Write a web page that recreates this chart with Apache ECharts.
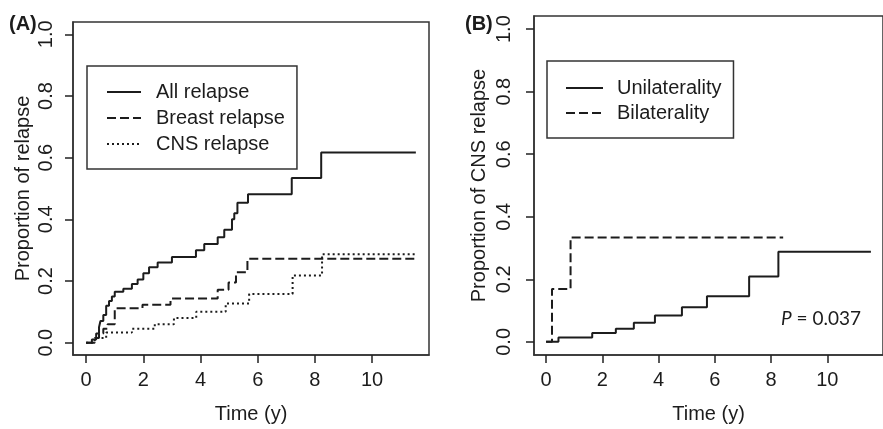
<!DOCTYPE html>
<html>
<head>
<meta charset="utf-8">
<script src="https://cdn.jsdelivr.net/npm/echarts@6/dist/echarts.min.js"></script>
<style>html,body{margin:0;padding:0;background:#fff;}#c{width:883px;height:429px;}</style>
</head>
<body>
<div id="c"></div>
<script>
// ---- Panel A data ----
const allT   = [0, 0.2, 0.35, 0.45, 0.5, 0.6, 0.7, 0.8, 0.9, 1.0, 1.3, 1.6, 1.8, 2.0, 2.2, 2.5, 3.0, 3.84, 4.13, 4.6, 4.83, 5.1, 5.18, 5.29, 5.66, 7.19, 8.22, 11.53];
const allY   = [0, 0.01, 0.03, 0.05, 0.07, 0.09, 0.12, 0.135, 0.15, 0.165, 0.175, 0.19, 0.205, 0.225, 0.245, 0.26, 0.278, 0.30, 0.32, 0.342, 0.366, 0.40, 0.42, 0.454, 0.481, 0.534, 0.617, 0.617];
const breastT = [0, 0.3, 0.45, 0.6, 0.75, 1.0, 1.97, 2.95, 4.6, 4.98, 5.24, 5.64, 11.53];
const breastY = [0, 0.015, 0.03, 0.045, 0.06, 0.112, 0.123, 0.143, 0.172, 0.195, 0.228, 0.272, 0.272];
const cnsT   = [0, 0.3, 0.7, 1.6, 2.4, 3.07, 3.85, 4.88, 5.7, 7.22, 8.25, 11.53];
const cnsY   = [0, 0.015, 0.033, 0.045, 0.06, 0.08, 0.1, 0.127, 0.158, 0.218, 0.287, 0.287];
// ---- Panel B data ----
const uniT = [0, 0.44, 1.64, 2.48, 3.12, 3.87, 4.83, 5.72, 7.22, 8.26, 11.55];
const uniY = [0, 0.014, 0.028, 0.042, 0.061, 0.084, 0.111, 0.146, 0.209, 0.288, 0.288];
const biT  = [0, 0.21, 0.87, 8.43];
const biY  = [0, 0.169, 0.334, 0.334];
// ---- ticks / labels ----
const xTicks = [0, 2, 4, 6, 8, 10];
const yTicks = [0, 0.2, 0.4, 0.6, 0.8, 1.0];
const namesA = ['All relapse', 'Breast relapse', 'CNS relapse'];
const namesB = ['Unilaterality', 'Bilaterality'];
const pText = '0.037';

const zip = (t, y) => t.map((v, i) => [v, y[i]]);
const ink = '#1c1c1c';
const font = 'Liberation Sans, Arial, sans-serif';
const DASH = [9, 4];
const DOT = [2, 3];
const xRange = [[-0.46, 11.99], [-0.43, 11.98]];
const yRange = [[-0.04, 1.04], [-0.042, 1.042]];

function xAxisCfg(gi) {
  return {
    type: 'value', gridIndex: gi, min: xRange[gi][0], max: xRange[gi][1],
    name: 'Time (y)', nameLocation: 'middle', nameGap: 49,
    nameTextStyle: {fontSize: 20, color: ink, fontFamily: font},
    axisLine: {show: false, onZero: false},
    axisTick: {show: false},
    axisLabel: {customValues: xTicks, fontSize: 20, color: ink, fontFamily: font, margin: 15},
    splitLine: {show: false}
  };
}
function yAxisCfg(gi, name, nameGap, labelMargin) {
  return {
    type: 'value', gridIndex: gi, min: yRange[gi][0], max: yRange[gi][1],
    name: name, nameLocation: 'middle', nameGap: nameGap, nameRotate: 90,
    nameTextStyle: {fontSize: 20, color: ink, fontFamily: font},
    axisLine: {show: false, onZero: false},
    axisTick: {show: false},
    axisLabel: {customValues: yTicks, rotate: 90, fontSize: 20, color: ink, fontFamily: font, margin: labelMargin,
      formatter: v => v.toFixed(1)},
    splitLine: {show: false}
  };
}
// tick-only axes (same scales, no labels)
function xTickAxis(gi) {
  return {
    type: 'value', gridIndex: gi, min: xRange[gi][0], max: xRange[gi][1], position: 'bottom',
    axisLine: {show: true, onZero: false, lineStyle: {color: '#333', width: 1.5}},
    axisTick: {show: true, length: 8, customValues: xTicks, lineStyle: {color: '#222', width: 1.5}},
    axisLabel: {show: false}, splitLine: {show: false}
  };
}
function yTickAxis(gi) {
  return {
    type: 'value', gridIndex: gi, min: yRange[gi][0], max: yRange[gi][1], position: 'left',
    axisLine: {show: true, onZero: false, lineStyle: {color: '#333', width: 1.5}},
    axisTick: {show: true, length: 8, customValues: yTicks, lineStyle: {color: '#222', width: 1.5}},
    axisLabel: {show: false}, splitLine: {show: false}
  };
}
function line(name, data, xi, type) {
  return {
    name: name, type: 'line', xAxisIndex: xi, yAxisIndex: xi, data: data,
    step: 'end', showSymbol: false, symbol: 'none', silent: true,
    lineStyle: {color: ink, width: 2, type: type}, itemStyle: {color: ink}
  };
}
const legendItemStyle = {color: 'transparent', borderColor: 'transparent', borderWidth: 0, opacity: 0};

const chart = echarts.init(document.getElementById('c'), null, {renderer: 'canvas'});
chart.setOption({
  animation: false,
  backgroundColor: '#fff',
  grid: [
    {left: 73, top: 22, width: 356, height: 337, show: true, borderColor: '#333', borderWidth: 1.5},
    {left: 534, top: 16, width: 358, height: 342, show: true, borderColor: '#333', borderWidth: 1.5}
  ],
  xAxis: [xAxisCfg(0), xAxisCfg(1), xTickAxis(0), xTickAxis(1)],
  yAxis: [yAxisCfg(0, 'Proportion of relapse', 40, 17),
          yAxisCfg(1, 'Proportion of CNS relapse', 45, 20),
          yTickAxis(0), yTickAxis(1)],
  legend: [
    {data: namesA, orient: 'vertical', left: 87, top: 66, itemWidth: 34, itemHeight: 14, itemGap: 6,
     padding: [16, 12, 15, 19], borderColor: '#333', borderWidth: 1.5, selectedMode: false,
     itemStyle: legendItemStyle,
     textStyle: {fontSize: 20, color: ink, fontFamily: font, lineHeight: 20, padding: [0, 0, 0, 10]}},
    {data: namesB, orient: 'vertical', left: 547, top: 61, itemWidth: 37, itemHeight: 14, itemGap: 5,
     padding: [17, 12, 15, 18], borderColor: '#333', borderWidth: 1.5, selectedMode: false,
     itemStyle: legendItemStyle,
     textStyle: {fontSize: 20, color: ink, fontFamily: font, lineHeight: 20, padding: [0, 0, 0, 9]}}
  ],
  graphic: [
    {type: 'text', left: 9, top: 14, style: {text: '(A)', font: 'bold 20px ' + font, fill: ink}},
    {type: 'text', left: 465, top: 14, style: {text: '(B)', font: 'bold 20px ' + font, fill: ink}},
    {type: 'text', left: 781, top: 309, style: {
      text: '{i|P} = ' + pText,
      rich: {i: {fontStyle: 'italic', fontSize: 19, fontFamily: 'Lato, sans-serif', fill: ink}},
      fontSize: 19, fontFamily: 'Lato, sans-serif', fill: ink}}
  ],
  series: [
    line(namesA[0], zip(allT, allY), 0, 'solid'),
    line(namesA[1], zip(breastT, breastY), 0, DASH),
    line(namesA[2], zip(cnsT, cnsY), 0, DOT),
    line(namesB[0], zip(uniT, uniY), 1, 'solid'),
    line(namesB[1], zip(biT, biY), 1, DASH)
  ]
});
</script>
</body>
</html>
